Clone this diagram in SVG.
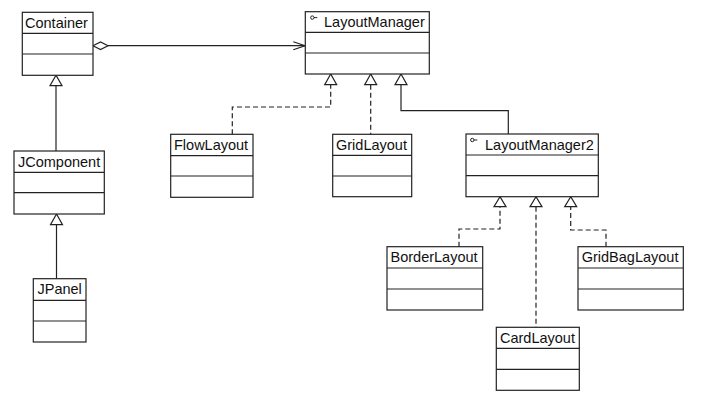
<svg xmlns="http://www.w3.org/2000/svg" width="702" height="407" viewBox="0 0 702 407">
<style>
.box{fill:#fff;stroke:#222;stroke-width:1.2}
.div{stroke:#222;stroke-width:1.2}
.t{font-family:"Liberation Sans",Arial,sans-serif;font-size:14.5px;fill:#111}
.c{fill:none;stroke:#222;stroke-width:1.2}
.d{fill:none;stroke:#222;stroke-width:1.2;stroke-dasharray:5,3}
.tri{fill:#fff;stroke:#222;stroke-width:1.2}
.ic{fill:none;stroke:#222;stroke-width:1}
</style>
<rect width="702" height="407" fill="#fff"/>
<g id="connectors">
<line class="c" x1="108" y1="45.7" x2="305" y2="45.7"/>
<polygon class="box" points="93,45.7 100.5,41.9 108,45.7 100.5,49.5"/>
<polyline class="c" points="293.3,41.7 305,45.7 293.3,49.7"/>
<line class="c" x1="56" y1="85.7" x2="56" y2="151"/>
<polygon class="tri" points="56,75.3 50,85.7 62,85.7"/>
<line class="c" x1="56.5" y1="224.7" x2="56.5" y2="278.7"/>
<polygon class="tri" points="56.5,214 50.5,224.7 62.5,224.7"/>
<polyline class="d" points="232.3,134.3 232.3,107 330.7,107 330.7,84.7"/>
<polygon class="tri" points="330.7,74 324.7,84.7 336.7,84.7"/>
<line class="d" x1="370.7" y1="84.7" x2="370.7" y2="134.3"/>
<polygon class="tri" points="370.7,74 364.7,84.7 376.7,84.7"/>
<polyline class="c" points="401,84.7 401,110.7 508.3,110.7 508.3,134"/>
<polygon class="tri" points="401,74 395,84.7 407,84.7"/>
<polyline class="d" points="459,246.7 459,229 500,229 500,206.7"/>
<polygon class="tri" points="500,196.7 494,206.7 506,206.7"/>
<line class="d" x1="536" y1="206.7" x2="536" y2="327.3"/>
<polygon class="tri" points="536,196.7 530,206.7 542,206.7"/>
<polyline class="d" points="606,246.7 606,230 570.7,230 570.7,206.7"/>
<polygon class="tri" points="570.7,196.7 564.7,206.7 576.7,206.7"/>
</g>
<g id="Container">
<rect class="box" x="22.3" y="12.3" width="70.7" height="63"/>
<line class="div" x1="22.3" y1="33.3" x2="93" y2="33.3"/>
<line class="div" x1="22.3" y1="54" x2="93" y2="54"/>
<text class="t" x="25" y="27.8">Container</text>
</g>
<g id="JComponent">
<rect class="box" x="14" y="151" width="90.3" height="63"/>
<line class="div" x1="14" y1="172.3" x2="104.3" y2="172.3"/>
<line class="div" x1="14" y1="192.7" x2="104.3" y2="192.7"/>
<text class="t" x="18" y="166.5">JComponent</text>
</g>
<g id="JPanel">
<rect class="box" x="33.3" y="278.7" width="52.7" height="63.3"/>
<line class="div" x1="33.3" y1="300.3" x2="86" y2="300.3"/>
<line class="div" x1="33.3" y1="321" x2="86" y2="321"/>
<text class="t" x="37.5" y="294.2">JPanel</text>
</g>
<g id="LayoutManager">
<rect class="box" x="305.3" y="11.7" width="124" height="62.3"/>
<line class="div" x1="305.3" y1="32.3" x2="429.3" y2="32.3"/>
<line class="div" x1="305.3" y1="53" x2="429.3" y2="53"/>
<circle class="ic" cx="312.3" cy="17.6" r="1.7"/>
<line class="ic" x1="314" y1="17.6" x2="317.3" y2="17.6"/>
<text class="t" x="324" y="27.2">LayoutManager</text>
</g>
<g id="FlowLayout">
<rect class="box" x="170.7" y="134.3" width="82.3" height="63"/>
<line class="div" x1="170.7" y1="155.7" x2="253" y2="155.7"/>
<line class="div" x1="170.7" y1="176" x2="253" y2="176"/>
<text class="t" x="174" y="149.8">FlowLayout</text>
</g>
<g id="GridLayout">
<rect class="box" x="332.7" y="134.3" width="79" height="62.4"/>
<line class="div" x1="332.7" y1="155.3" x2="411.7" y2="155.3"/>
<line class="div" x1="332.7" y1="176" x2="411.7" y2="176"/>
<text class="t" x="336" y="149.8">GridLayout</text>
</g>
<g id="LayoutManager2">
<rect class="box" x="466" y="134" width="132.3" height="62.7"/>
<line class="div" x1="466" y1="155" x2="598.3" y2="155"/>
<line class="div" x1="466" y1="175.7" x2="598.3" y2="175.7"/>
<circle class="ic" cx="472.3" cy="140" r="1.7"/>
<line class="ic" x1="474" y1="140" x2="477.3" y2="140"/>
<text class="t" x="485" y="149.5">LayoutManager2</text>
</g>
<g id="BorderLayout">
<rect class="box" x="387" y="246.7" width="95.7" height="63.3"/>
<line class="div" x1="387" y1="268" x2="482.7" y2="268"/>
<line class="div" x1="387" y1="289" x2="482.7" y2="289"/>
<text class="t" x="390.5" y="262.3">BorderLayout</text>
</g>
<g id="GridBagLayout">
<rect class="box" x="578" y="246.7" width="105.3" height="63.3"/>
<line class="div" x1="578" y1="268" x2="683.3" y2="268"/>
<line class="div" x1="578" y1="289" x2="683.3" y2="289"/>
<text class="t" x="581.7" y="262.3">GridBagLayout</text>
</g>
<g id="CardLayout">
<rect class="box" x="496.3" y="327.3" width="83" height="63"/>
<line class="div" x1="496.3" y1="348.3" x2="579.3" y2="348.3"/>
<line class="div" x1="496.3" y1="369.3" x2="579.3" y2="369.3"/>
<text class="t" x="500" y="343">CardLayout</text>
</g>
</svg>
